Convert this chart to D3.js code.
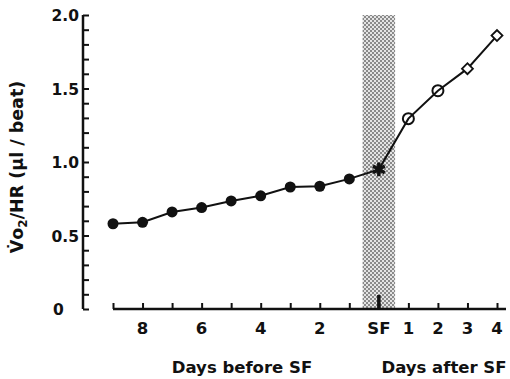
<!DOCTYPE html>
<html>
<head>
<meta charset="utf-8">
<script src="https://cdn.jsdelivr.net/npm/d3@7"></script>
<style>
  body { margin: 0; background: #fff; }
  text { font-family: "DejaVu Sans", sans-serif; font-weight: bold; fill: #111; }
</style>
</head>
<body>
<svg width="510" height="379"></svg>
<script>
// days relative to SF (negative = before)
const beforeDays = [-9, -8, -7, -6, -5, -4, -3, -2, -1];
const beforeVals = [0.58, 0.59, 0.66, 0.69, 0.735, 0.77, 0.83, 0.835, 0.885];
const sfDay = 0, sfVal = 0.95;
const afterCircleDays = [1, 2];
const afterCircleVals = [1.295, 1.485];
const afterDiamondDays = [3, 4];
const afterDiamondVals = [1.635, 1.86];
const xTickDays = [-8, -6, -4, -2, 0, 1, 2, 3, 4];
const xTickLabels = ["8", "6", "4", "2", "SF", "1", "2", "3", "4"];
const yLabels = [0, 0.5, 1.0, 1.5, 2.0];

let svg = d3.select("svg");
let x = d3.scaleLinear().domain([-9, 4]).range([113, 497]);
let y = d3.scaleLinear().domain([0, 2]).range([309, 15]);
let fs = 16.5;

// shaded band around SF, drawn as a checker pattern like the print
let pat = svg.append("defs").append("pattern")
    .attr("id", "dots").attr("width", 4).attr("height", 4)
    .attr("patternUnits", "userSpaceOnUse");
pat.append("rect").attr("width", 4).attr("height", 4).attr("fill", "#e4e4e4");
pat.append("rect").attr("width", 2).attr("height", 2).attr("fill", "#8a8a8a");
pat.append("rect").attr("x", 2).attr("y", 2).attr("width", 2).attr("height", 2).attr("fill", "#8a8a8a");
svg.append("rect")
    .attr("x", x(-0.55)).attr("y", y(2))
    .attr("width", x(0.55) - x(-0.55)).attr("height", y(0) - y(2))
    .attr("fill", "url(#dots)");

// y axis with minor ticks every 0.1
svg.append("g")
    .attr("transform", `translate(${83},0)`)
    .call(d3.axisRight(y).tickValues(d3.range(0, 2.001, 0.1)).tickSize(6).tickFormat(""))
    .call(g => g.selectAll("line").attr("stroke", "#111").attr("stroke-width", 2))
    .call(g => g.select(".domain").attr("stroke", "#111").attr("stroke-width", 2.5).attr("d", `M0,${y(2)}V${y(0)}`));

svg.append("g").selectAll("text")
    .data(yLabels).join("text")
    .attr("x", d => d === 0 ? 53 : 79)
    .attr("y", d => y(d) + 6)
    .attr("text-anchor", d => d === 0 ? "start" : "end")
    .attr("font-size", 15.5)
    .text(d => d === 0 ? "0" : d.toFixed(1));

// x axis: ticks every day pointing up
let xAxis = svg.append("g").attr("transform", `translate(0,${y(0)})`);
xAxis.call(d3.axisTop(x).tickValues(d3.range(-9, 5)).tickSize(6).tickFormat(""))
    .call(g => g.selectAll("line").attr("stroke", "#111").attr("stroke-width", 2))
    .call(g => g.select(".domain").attr("stroke", "#111").attr("stroke-width", 2.5).attr("d", `M${x(-9)},0H506`));
xAxis.append("line")
    .attr("x1", x(sfDay)).attr("x2", x(sfDay)).attr("y1", 0).attr("y2", -14)
    .attr("stroke", "#111").attr("stroke-width", 3.5);

svg.append("g").selectAll("text")
    .data(xTickDays).join("text")
    .attr("x", d => x(d)).attr("y", 334)
    .attr("text-anchor", "middle").attr("font-size", fs)
    .text((d, i) => xTickLabels[i]);

svg.append("text").attr("x", 242).attr("y", 373).attr("text-anchor", "middle")
    .attr("font-size", fs).text("Days before SF");
svg.append("text").attr("x", 444).attr("y", 373).attr("text-anchor", "middle")
    .attr("font-size", fs).text("Days after SF");

// y title
let yt = svg.append("text")
    .attr("transform", `translate(23,${167}) rotate(-90)`)
    .attr("text-anchor", "middle").attr("font-size", 17.5);
yt.append("tspan").text("V\u0307o");
yt.append("tspan").attr("font-size", 12).attr("dy", 4).text("2");
yt.append("tspan").attr("dy", -4).text("/HR (\u00b5l / beat)");

// connecting line
let allDays = beforeDays.concat([sfDay], afterCircleDays, afterDiamondDays);
let allVals = beforeVals.concat([sfVal], afterCircleVals, afterDiamondVals);
svg.append("path")
    .datum(d3.zip(allDays, allVals))
    .attr("fill", "none").attr("stroke", "#111").attr("stroke-width", 2)
    .attr("d", d3.line().x(d => x(d[0])).y(d => y(d[1])));

// markers
svg.append("g").selectAll("circle")
    .data(d3.zip(beforeDays, beforeVals)).join("circle")
    .attr("cx", d => x(d[0])).attr("cy", d => y(d[1])).attr("r", 5.5)
    .attr("fill", "#111");

svg.append("path")
    .attr("transform", `translate(${x(sfDay)},${y(sfVal)})`)
    .attr("d", d3.symbol(d3.symbolAsterisk, 130)())
    .attr("fill", "none").attr("stroke", "#111").attr("stroke-width", 3.5);

svg.append("g").selectAll("circle")
    .data(d3.zip(afterCircleDays, afterCircleVals)).join("circle")
    .attr("cx", d => x(d[0])).attr("cy", d => y(d[1])).attr("r", 5.5)
    .attr("fill", "none").attr("stroke", "#111").attr("stroke-width", 2);

svg.append("g").selectAll("path")
    .data(d3.zip(afterDiamondDays, afterDiamondVals)).join("path")
    .attr("transform", d => `translate(${x(d[0])},${y(d[1])}) rotate(45)`)
    .attr("d", d3.symbol(d3.symbolSquare, 60)())
    .attr("fill", "#fff").attr("stroke", "#111").attr("stroke-width", 1.8);
</script>
</body>
</html>
